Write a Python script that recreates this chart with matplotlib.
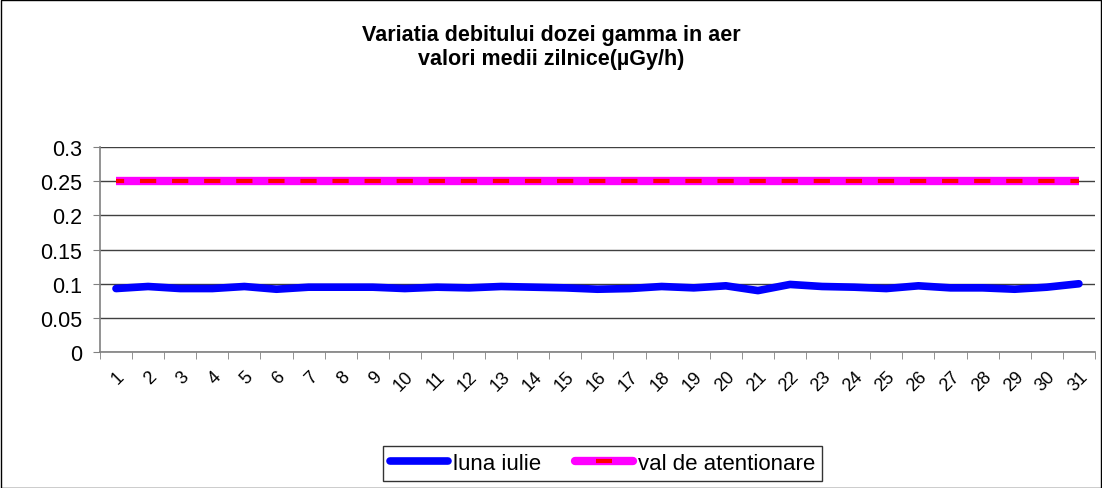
import numpy as np
import matplotlib.pyplot as plt
import matplotlib.transforms as mtransforms
from matplotlib.patches import Rectangle
from matplotlib.lines import Line2D

plt.rcParams['font.family'] = ['Liberation Sans', 'DejaVu Sans']

zile = [str(i) for i in range(1, 32)]
luna_iulie = [0.093, 0.096, 0.093, 0.093, 0.096, 0.092, 0.095, 0.095, 0.095, 0.093,
              0.095, 0.094, 0.096, 0.095, 0.094, 0.092, 0.093, 0.096, 0.094, 0.097,
              0.090, 0.099, 0.096, 0.095, 0.093, 0.097, 0.094, 0.094, 0.092, 0.095,
              0.100]
val_atentionare = [0.25] * 31
y_ticks = [0, 0.05, 0.1, 0.15, 0.2, 0.25, 0.3]
y_labels = ['0', '0.05', '0.1', '0.15', '0.2', '0.25', '0.3']

fig = plt.figure(figsize=(11.02, 4.89), dpi=100)
ax = fig.add_axes([0.0907, 0.278, 0.9029, 0.419])

pos = np.arange(len(zile))
ax.plot(pos, luna_iulie, color='#0000ff', lw=5.5, solid_capstyle='round', zorder=3)
ax.plot(pos, val_atentionare, color='#ff00ff', lw=6, solid_capstyle='butt', zorder=3)
# red dashes centred on each day
ax.plot(pos, val_atentionare, color='#ff0000', lw=3,
        linestyle=(1.95, (3.9, 3.8)), dash_capstyle='butt', zorder=4)

ax.set_xlim(-0.5, 30.5)
ax.set_ylim(0, 0.3)
ax.set_yticks(y_ticks)
ax.set_yticklabels(y_labels, fontsize=15.5)
ax.set_xticks(pos)
ax.set_xticklabels(zile, rotation=45, ha='right', va='top', fontsize=13,
                   rotation_mode='anchor')
shift = mtransforms.ScaledTranslation(-4 / 100, 0, fig.dpi_scale_trans)
for lab in ax.get_xticklabels():
    lab.set_transform(lab.get_transform() + shift)
ax.tick_params(axis='x', length=0, pad=11)
ax.set_xticks(np.arange(-0.5, 31, 1), minor=True)
ax.tick_params(axis='x', which='minor', length=5, color='#808080', direction='out')
ax.tick_params(axis='y', length=5, color='#808080', direction='out', pad=8)
ax.grid(axis='y', color='#404040', lw=1)
ax.set_axisbelow(True)
for s in ['top', 'right']:
    ax.spines[s].set_visible(False)
for s in ['left', 'bottom']:
    ax.spines[s].set_color('#808080')
    ax.spines[s].set_linewidth(1.2)

fig.text(0.5, 0.903, 'Variatia debitului dozei gamma in aer\nvalori medii zilnice(µGy/h)',
         ha='center', va='center', fontsize=15.5, fontweight='bold', linespacing=1.15)

h1 = Line2D([], [], color='#0000ff', lw=5.5, solid_capstyle='round')
h2a = Line2D([], [], color='#ff00ff', lw=6, solid_capstyle='round')
h2b = Line2D([], [], color='#ff0000', linestyle='none', marker='_', markersize=11, mew=3)
leg = fig.legend([h1, (h2a, h2b)], ['luna iulie', 'val de atentionare'],
                 loc='center', bbox_to_anchor=(0.547, 0.05), ncol=2, fontsize=16,
                 frameon=True, fancybox=False, edgecolor='black', handlelength=2.6,
                 handletextpad=0.25, columnspacing=1.5, borderpad=0.3,
                 borderaxespad=0)
leg.get_frame().set_linewidth(1)

fig.patches.append(Rectangle((0.001, 0.001), 0.998, 0.997, transform=fig.transFigure,
                             fill=False, edgecolor='black', lw=1))

fig.savefig('out.png', dpi=100)
